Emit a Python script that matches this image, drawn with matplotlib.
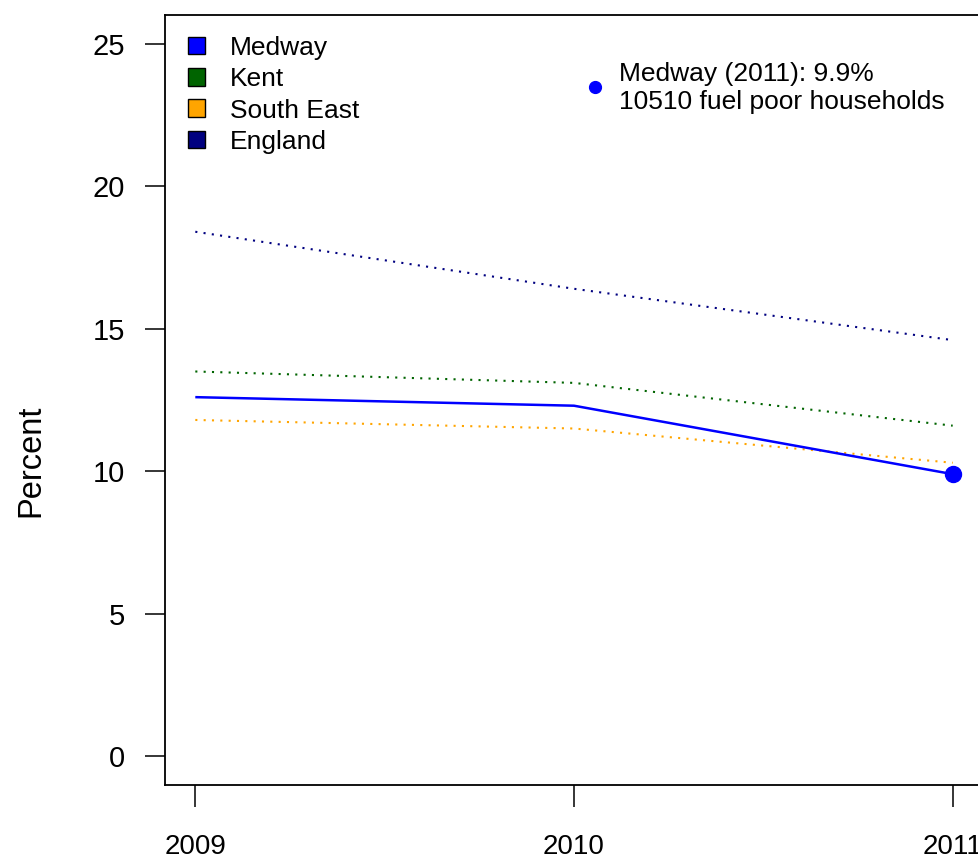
#!/usr/bin/env python3
"""Fuel poverty: Medway vs Kent / South East / England, 2009-2011."""
import matplotlib
matplotlib.use("Agg")
import matplotlib.pyplot as plt
from matplotlib.patches import Patch

YEARS = [2009, 2010, 2011]
MEDWAY = [12.6, 12.3, 9.9]
KENT = [13.5, 13.1, 11.6]
SOUTH_EAST = [11.8, 11.5, 10.3]
ENGLAND = [18.4, 16.4, 14.6]
HOUSEHOLDS = 10510

SERIES = ["Medway", "Kent", "South East", "England"]
COLORS = {
    "Medway": "#0000FF",
    "Kent": "#006400",
    "South East": "#FFA500",
    "England": "#000080",
}

plt.rcParams["font.family"] = ["Liberation Sans", "DejaVu Sans"]

fig = plt.figure(figsize=(9.79, 8.61), dpi=100)
ax = fig.add_axes([165 / 979, 1 - 785 / 861, 818 / 979, 770 / 861])

dotted = (0, (1.0, 3.0))
for name, vals in [("England", ENGLAND), ("Kent", KENT), ("South East", SOUTH_EAST)]:
    ax.plot(YEARS, vals, color=COLORS[name], lw=1.5, ls=dotted)
ax.plot(YEARS, MEDWAY, color=COLORS["Medway"], lw=1.8, solid_capstyle="butt")
ax.plot(YEARS[-1], MEDWAY[-1], "o", color=COLORS["Medway"], ms=11.5)

# callout for the latest Medway value
ax.plot(2010.055, 23.49, "o", color=COLORS["Medway"], ms=8.5)
ax.text(2010.119, 23.45,
        f"Medway ({YEARS[-1]}): {MEDWAY[-1]}%\n{HOUSEHOLDS} fuel poor households",
        ha="left", va="center", fontsize=19, linespacing=1.2)

ax.set_xlim(2008.92, 2011.08)
ax.set_ylim(-1, 26)
ax.set_xticks(YEARS)
ax.set_xticklabels([str(y) for y in YEARS])
ax.set_yticks([0, 5, 10, 15, 20, 25])
ax.tick_params(axis="y", direction="out", length=14.4, width=1.1, pad=14.4, labelsize=21)
ax.tick_params(axis="x", direction="out", length=15.5, width=1.1, pad=20, labelsize=20)
for sp in ax.spines.values():
    sp.set_linewidth(1.3)

fig.text(31 / 979, 400 / 861, "Percent", rotation=90, ha="center", va="center", fontsize=23.5)

handles = [Patch(facecolor=COLORS[s], edgecolor="black", lw=1.0) for s in SERIES]
ax.legend(handles, SERIES, loc="upper left", bbox_to_anchor=(0.028, 0.973),
          frameon=False, fontsize=19, borderpad=0, borderaxespad=0,
          handlelength=0.65, handleheight=0.65, handletextpad=0.95, labelspacing=0.28)

fig.savefig("out.png", dpi=100)
